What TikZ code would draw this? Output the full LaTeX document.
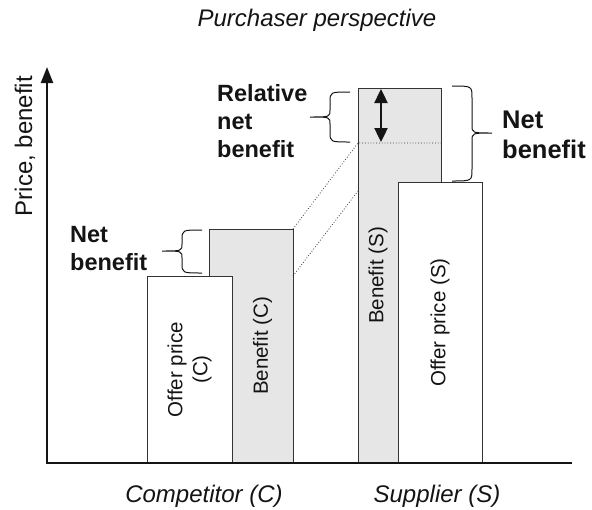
\documentclass[tikz,border=0pt]{standalone}
\usepackage{fontspec}
\setmainfont{Liberation Sans}
\usetikzlibrary{arrows.meta}
\definecolor{barfill}{HTML}{E6E6E6}
\definecolor{edge}{HTML}{333333}
\definecolor{ink}{HTML}{141414}
\begin{document}
\begin{tikzpicture}[x=1pt,y=-1pt,
  bar/.style={draw=edge, line width=1pt},
  gain/.style={bar, fill=barfill},
  price/.style={bar, fill=white},
  axis/.style={draw=ink, line width=2.4pt},
  guide/.style={draw=edge, line width=0.8pt, dotted},
  curly/.style={draw=ink, line width=1pt},
  barlabel/.style={font=\fontsize{20.5}{25}\selectfont, rotate=90, align=center, text=ink},
  tag/.style={font=\fontsize{23.5}{28}\selectfont\bfseries, align=left, text=ink, inner sep=0pt},
  caption/.style={font=\fontsize{24}{28}\selectfont\itshape, text=ink}
]
\useasboundingbox (0,0) rectangle (592,509);

% bars: benefit behind, offer price in front
\draw[gain]  (209,229) rectangle (293,463);
\draw[price] (147,276) rectangle (232,463);
\draw[gain]  (358,88)  rectangle (441,463);
\draw[price] (398,182) rectangle (482,463);

% dotted guides carrying the competitor's net benefit across
\coordinate (cTop)  at (293,229);
\coordinate (cMid)  at (293,276);
\coordinate (sCut)  at (358,143);
\coordinate (sLow)  at (358,191);
\coordinate (sCutR) at (441,143);
\draw[guide] (cTop) -- (sCut) -- (sCutR);
\draw[guide] (cMid) -- (sLow);

% relative net benefit arrow
\coordinate (relTop) at (381,89);
\coordinate (relBot) at (381,142);
\draw[ink, line width=2.4pt, {Triangle[width=13pt,length=14pt]}-{Triangle[width=13pt,length=14pt]}] (relTop) -- (relBot);

% axes
\coordinate (O)    at (47,463);
\coordinate (yTop) at (47,67);
\coordinate (xEnd) at (572,463);
\draw[axis, {Triangle[width=12pt,length=16pt]}-] (yTop) -- (O) -- (xEnd);

% braces
\draw[curly] (202,230) .. controls (182,230) .. (182,240) -- (182,244)
  .. controls (182,251) .. (162,251) .. controls (182,251) .. (182,258)
  -- (182,263) .. controls (182,273) .. (202,273);
\draw[curly] (350,92) .. controls (330,92) .. (330,102) -- (330,110)
  .. controls (330,117) .. (310,117) .. controls (330,117) .. (330,124)
  -- (330,132) .. controls (330,142) .. (350,142);
\draw[curly] (452,86) .. controls (472,86) .. (472,98) -- (472,125)
  .. controls (472,133) .. (492,133) .. controls (472,133) .. (472,141)
  -- (472,169) .. controls (472,181) .. (452,181);

% texts
\node[caption, anchor=base] (title) at (317,26) {Purchaser perspective};
\node[caption, anchor=base] (compC) at (204,502) {Competitor (C)};
\node[caption, anchor=base] (supS)  at (437,502) {Supplier (S)};
\node[font=\fontsize{24}{28}\selectfont, rotate=90, anchor=base, text=ink] (ylab) at (32,146) {Price, benefit};

\node[barlabel] (offC) at (189.5,369.5) {Offer price\\(C)};
\node[barlabel] (benC) at (262.5,346)   {Benefit (C)};
\node[barlabel] (benS) at (378,275.5)   {Benefit (S)};
\node[barlabel] (offS) at (440,322.5)   {Offer price (S)};

% multi-line tags are placed by the baseline of their last line
\node[tag, anchor=base west] (netC)   at (70,270)  {Net\\benefit};
\node[tag, anchor=base west] (relNet) at (217,157) {Relative\\net\\benefit};
\node[tag, font=\fontsize{25.5}{30}\selectfont\bfseries, anchor=base west] (netS) at (502,158) {Net\\benefit};
\end{tikzpicture}
\end{document}
